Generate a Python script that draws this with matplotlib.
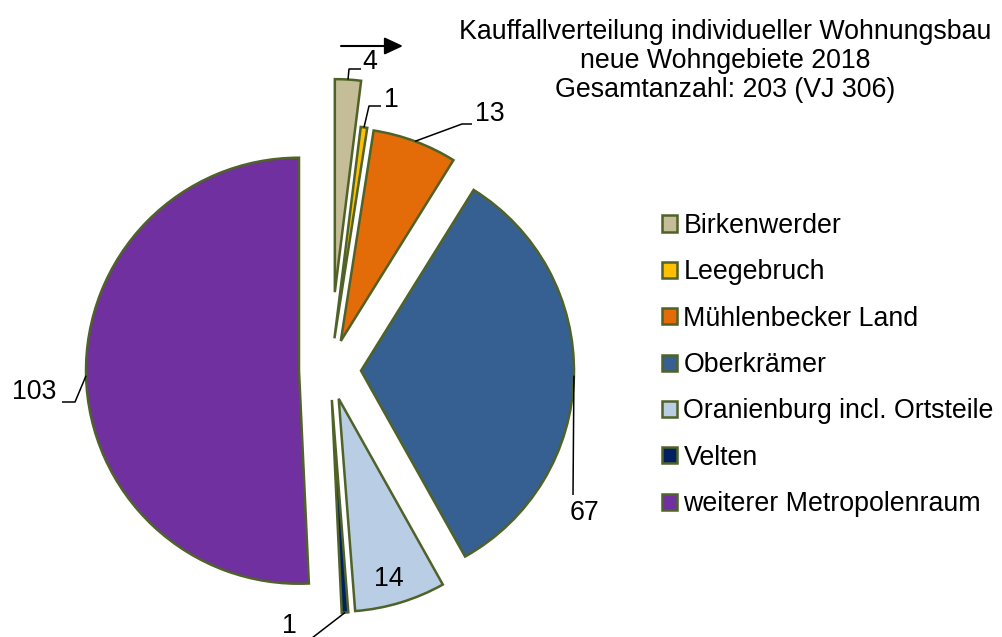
import numpy as np
import matplotlib.pyplot as plt

plt.rcParams['font.family'] = ['Liberation Sans', 'DejaVu Sans']

# data
gemeinden = ['Birkenwerder', 'Leegebruch', 'Mühlenbecker Land', 'Oberkrämer',
             'Oranienburg incl. Ortsteile', 'Velten', 'weiterer Metropolenraum']
kauffaelle = [4, 1, 13, 67, 14, 1, 103]
farben = ['#C4BD97', '#FFC000', '#E36C09', '#376092', '#B9CDE5', '#002060', '#7030A0']
titel = ['Kauffallverteilung individueller Wohnungsbau',
         'neue Wohngebiete 2018',
         'Gesamtanzahl: 203 (VJ 306)']

# layout (pixels, y from top)
W, H = 1003, 637
MITTE = (330, 370)
RADIUS = 213
abstand = [78, 32, 31, 31, 30, 30, 31]   # explode offsets
FS = 19.3

# label text pos, elbow of leader, end of horizontal part
etiketten = [
    ((370, 62), (349, 69), (361, 69)),
    ((391, 100), (369, 106), (381, 106)),
    ((490, 114), (462, 124), (472, 124)),
    ((585, 513), (573, 495), None),
    ((389, 579), None, None),
    ((289, 626), (312, 638), None),
    ((34, 392), (75, 402), (62, 402)),
]

fig = plt.figure(figsize=(W / 100, H / 100), dpi=100)
ax = fig.add_axes([0, 0, 1, 1])
keile, _ = ax.pie(kauffaelle, colors=farben, radius=RADIUS, center=MITTE,
                  startangle=-90, counterclock=True, explode=abstand,
                  wedgeprops=dict(edgecolor='#4F6228', linewidth=1.8))
ax.set_xlim(0, W)
ax.set_ylim(H, 0)
ax.set_aspect('equal')
ax.axis('off')

for w, n, (txt, knick, ende) in zip(keile, kauffaelle, etiketten):
    tm = np.deg2rad((w.theta1 + w.theta2) / 2)
    cx, cy = w.center
    anker = (cx + w.r * np.cos(tm), cy + w.r * np.sin(tm))
    if knick is not None:
        pts = [anker, knick] + ([ende] if ende else [])
        xs, ys = zip(*pts)
        ax.plot(xs, ys, color='black', lw=1.1, solid_capstyle='butt')
    ax.text(txt[0], txt[1], str(n), ha='center', va='center', fontsize=FS)

ax.annotate('', xy=(403, 46), xytext=(341, 46),
            arrowprops=dict(arrowstyle='-|>,head_length=0.75,head_width=0.35',
                            mutation_scale=15, lw=1.5, color='black',
                            shrinkA=0, shrinkB=0))

# title, one text per line
for i, zeile in enumerate(titel):
    ax.text(725, 32 + 29 * i, zeile, ha='center', va='center', fontsize=FS)

ax.legend(keile, gemeinden, loc='upper left', bbox_to_anchor=(662, 213),
          bbox_transform=ax.transData, frameon=False, fontsize=FS,
          handlelength=0.55, handleheight=0.55, handletextpad=0.25,
          labelspacing=0.76, borderpad=0, borderaxespad=0)

fig.savefig('out.png', dpi=100)
